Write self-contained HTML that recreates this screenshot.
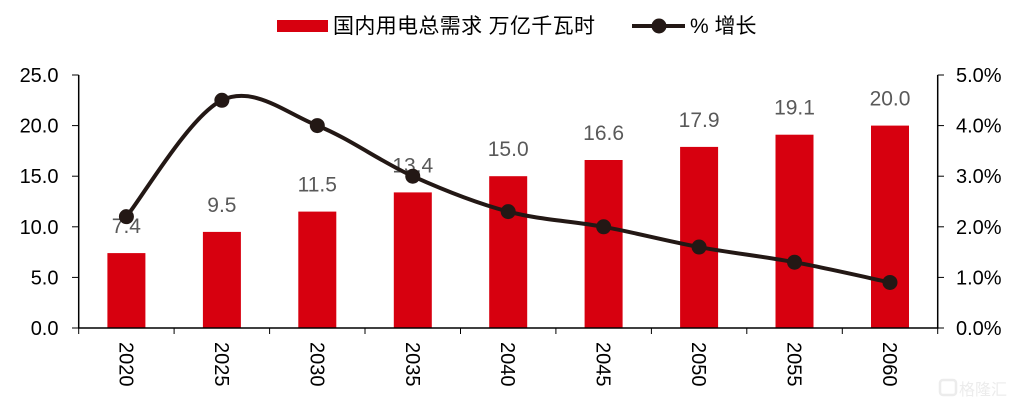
<!DOCTYPE html>
<html>
<head>
<meta charset="utf-8">
<style>
  html, body { margin:0; padding:0; background:#fff; }
  svg { display:block; }
  text { font-family: "Liberation Sans", "Noto Sans CJK SC", sans-serif; }
</style>
</head>
<body>
<svg width="1014" height="403" viewBox="0 0 1014 403" xmlns="http://www.w3.org/2000/svg">
  <rect width="1014" height="403" fill="#fff"/>

  <!-- Legend -->
  <rect x="277" y="20" width="51" height="12" fill="#d7000f"/>
  <text x="333" y="33" font-size="21" fill="#000" textLength="262" lengthAdjust="spacing">国内用电总需求 万亿千瓦时</text>
  <line x1="632" y1="26" x2="685" y2="26" stroke="#231815" stroke-width="4"/>
  <circle cx="659" cy="26" r="7.5" fill="#231815"/>
  <text x="690" y="33" font-size="21" fill="#000">% 增长</text>

  <!-- Bars -->
  <g fill="#d7000f">
    <rect x="107.4" y="253.1" width="38" height="74.9"/>
    <rect x="202.9" y="231.9" width="38" height="96.1"/>
    <rect x="298.3" y="211.6" width="38" height="116.4"/>
    <rect x="393.8" y="192.4" width="38" height="135.6"/>
    <rect x="489.2" y="176.2" width="38" height="151.8"/>
    <rect x="584.6" y="160.0" width="38" height="168.0"/>
    <rect x="680.1" y="146.9" width="38" height="181.1"/>
    <rect x="775.5" y="134.7" width="38" height="193.3"/>
    <rect x="871.0" y="125.6" width="38" height="202.4"/>
  </g>

  <!-- Bar data labels -->
  <g font-size="21" fill="#595959" text-anchor="middle">
    <text x="126.4" y="233.1">7.4</text>
    <text x="221.9" y="211.9">9.5</text>
    <text x="317.3" y="191.6">11.5</text>
    <text x="412.8" y="172.4">13.4</text>
    <text x="508.2" y="156.2">15.0</text>
    <text x="603.6" y="140.0">16.6</text>
    <text x="699.1" y="126.9">17.9</text>
    <text x="794.5" y="114.7">19.1</text>
    <text x="890.0" y="105.6">20.0</text>
  </g>

  <!-- Axes -->
  <g stroke="#000" stroke-width="1.5" fill="none">
    <line x1="78.7" y1="75" x2="78.7" y2="328"/>
    <line x1="937.7" y1="75" x2="937.7" y2="328"/>
    <line x1="78" y1="328" x2="938.5" y2="328"/>
  </g>
  <g stroke="#000" stroke-width="1">
    <line x1="72" y1="75" x2="78.7" y2="75"/>
    <line x1="72" y1="125.6" x2="78.7" y2="125.6"/>
    <line x1="72" y1="176.2" x2="78.7" y2="176.2"/>
    <line x1="72" y1="226.8" x2="78.7" y2="226.8"/>
    <line x1="72" y1="277.4" x2="78.7" y2="277.4"/>
    <line x1="72" y1="328" x2="78.7" y2="328"/>
    <line x1="937.7" y1="75" x2="944" y2="75"/>
    <line x1="937.7" y1="125.6" x2="944" y2="125.6"/>
    <line x1="937.7" y1="176.2" x2="944" y2="176.2"/>
    <line x1="937.7" y1="226.8" x2="944" y2="226.8"/>
    <line x1="937.7" y1="277.4" x2="944" y2="277.4"/>
    <line x1="937.7" y1="328" x2="944" y2="328"/>
    <line x1="78.7" y1="328" x2="78.7" y2="334"/>
    <line x1="174.1" y1="328" x2="174.1" y2="334"/>
    <line x1="269.6" y1="328" x2="269.6" y2="334"/>
    <line x1="365.0" y1="328" x2="365.0" y2="334"/>
    <line x1="460.5" y1="328" x2="460.5" y2="334"/>
    <line x1="555.9" y1="328" x2="555.9" y2="334"/>
    <line x1="651.4" y1="328" x2="651.4" y2="334"/>
    <line x1="746.8" y1="328" x2="746.8" y2="334"/>
    <line x1="842.3" y1="328" x2="842.3" y2="334"/>
    <line x1="937.7" y1="328" x2="937.7" y2="334"/>
  </g>

  <!-- Left axis labels -->
  <g font-size="20" fill="#000" text-anchor="end">
    <text x="58.5" y="82">25.0</text>
    <text x="58.5" y="132.6">20.0</text>
    <text x="58.5" y="183.2">15.0</text>
    <text x="58.5" y="233.8">10.0</text>
    <text x="58.5" y="284.4">5.0</text>
    <text x="58.5" y="335">0.0</text>
  </g>

  <!-- Right axis labels -->
  <g font-size="20" fill="#000" text-anchor="start">
    <text x="956" y="82">5.0%</text>
    <text x="956" y="132.6">4.0%</text>
    <text x="956" y="183.2">3.0%</text>
    <text x="956" y="233.8">2.0%</text>
    <text x="956" y="284.4">1.0%</text>
    <text x="956" y="335">0.0%</text>
  </g>

  <!-- X axis labels (rotated) -->
  <g font-size="20" fill="#000" text-anchor="start">
    <text transform="translate(126.4,342) rotate(90)" dy="0.35em">2020</text>
    <text transform="translate(221.9,342) rotate(90)" dy="0.35em">2025</text>
    <text transform="translate(317.3,342) rotate(90)" dy="0.35em">2030</text>
    <text transform="translate(412.8,342) rotate(90)" dy="0.35em">2035</text>
    <text transform="translate(508.2,342) rotate(90)" dy="0.35em">2040</text>
    <text transform="translate(603.6,342) rotate(90)" dy="0.35em">2045</text>
    <text transform="translate(699.1,342) rotate(90)" dy="0.35em">2050</text>
    <text transform="translate(794.5,342) rotate(90)" dy="0.35em">2055</text>
    <text transform="translate(890.0,342) rotate(90)" dy="0.35em">2060</text>
  </g>

  <!-- Growth line (smoothed) -->
  <path d="M126.42,216.68
           C142.33,197.28 190.05,115.48 221.87,100.30
           C253.69,85.12 285.49,112.95 317.31,125.60
           C349.13,138.25 380.94,161.86 412.76,176.20
           C444.58,190.54 476.39,203.19 508.20,211.62
           C540.01,220.05 571.82,220.90 603.64,226.80
           C635.46,232.70 667.27,241.14 699.09,247.04
           C730.91,252.94 762.71,256.32 794.53,262.22
           C826.35,268.12 874.07,279.09 889.98,282.46"
        fill="none" stroke="#231815" stroke-width="4" stroke-linejoin="round" stroke-linecap="round"/>
  <g fill="#231815">
    <circle cx="126.42" cy="216.68" r="7.5"/>
    <circle cx="221.87" cy="100.30" r="7.5"/>
    <circle cx="317.31" cy="125.60" r="7.5"/>
    <circle cx="412.76" cy="176.20" r="7.5"/>
    <circle cx="508.20" cy="211.62" r="7.5"/>
    <circle cx="603.64" cy="226.80" r="7.5"/>
    <circle cx="699.09" cy="247.04" r="7.5"/>
    <circle cx="794.53" cy="262.22" r="7.5"/>
    <circle cx="889.98" cy="282.46" r="7.5"/>
  </g>

  <!-- Watermark -->
  <g>
    <rect x="940" y="380" width="16" height="15" rx="3" fill="none" stroke="#ececec" stroke-width="2.5"/>
    <text x="959" y="395" font-size="16" fill="#ececec">格隆汇</text>
  </g>
</svg>
</body>
</html>
